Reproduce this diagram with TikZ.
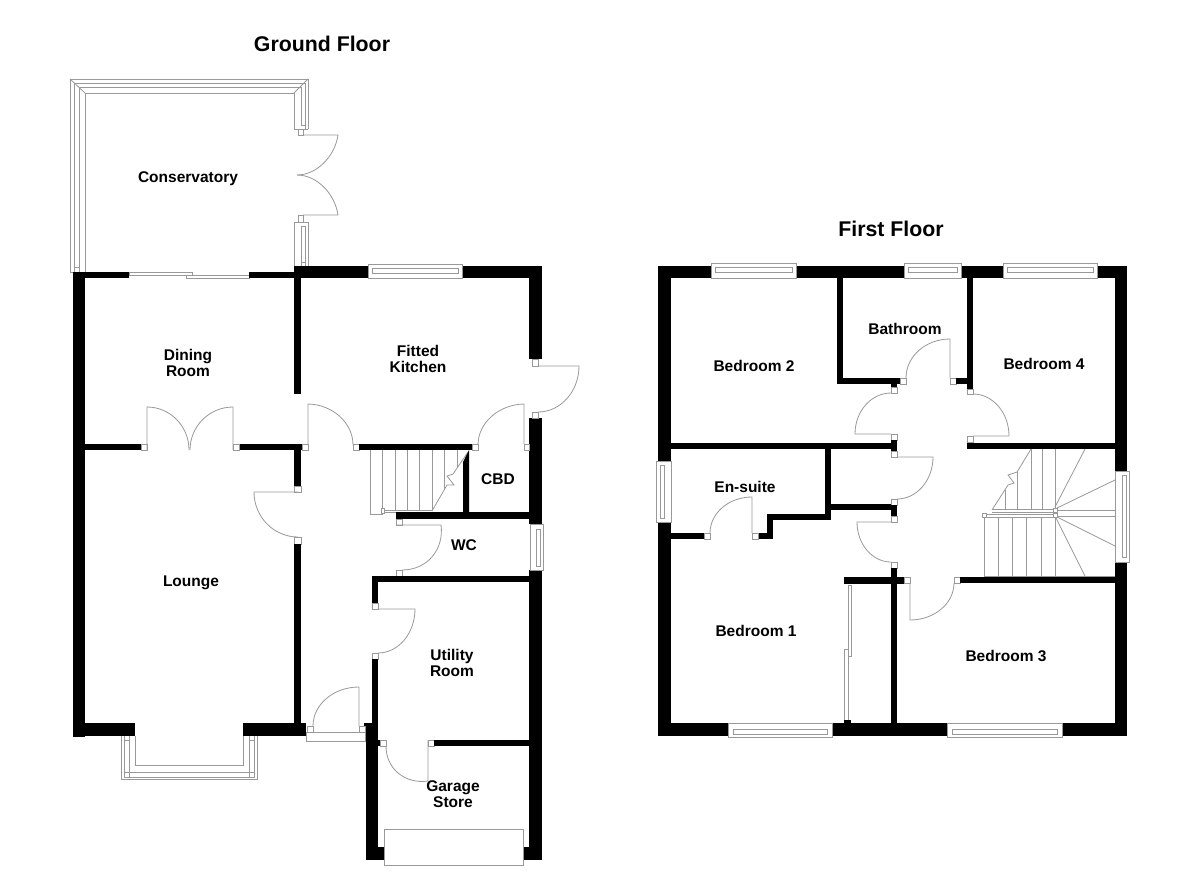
\documentclass[tikz,border=0pt]{standalone}
\usepackage{fontspec}
\setmainfont{Liberation Sans}
\usetikzlibrary{calc}
\definecolor{ln}{HTML}{999999}
\newcommand{\W}[2]{\fill[black] (#1) rectangle (#2);}
\newcommand{\Sq}[2]{\draw[thin line,fill=white] (#1) rectangle (#2);}
\newcommand{\R}[2]{\draw[thin line,fill=white] (#1) rectangle (#2);}
\newcommand{\Door}[3]{\draw[thin line] (#1) -- (#2) .. controls ($(#2)+0.5523*(#3)-0.5523*(#1)$) and ($(#3)+0.5523*(#2)-0.5523*(#1)$) .. (#3);}
\tikzset{thin line/.style={draw=ln,line width=0.8pt},
  lbl/.style={font=\bfseries\fontsize{15.5}{16.5}\selectfont,align=center,inner sep=0pt,text=black},
  ttl/.style={font=\bfseries\fontsize{21.3}{23}\selectfont,inner sep=0pt,text=black}}
\begin{document}
\begin{tikzpicture}[x=1pt,y=-1pt]
\useasboundingbox[fill=white] (0,0) rectangle (1200,873);
% --- conservatory frame
\draw[thin line] (70,272) -- (70,79) -- (308,79) -- (308,129);
\draw[thin line] (74,272) -- (74,83) -- (305,83) -- (305,129);
\draw[thin line] (79,272) -- (79,87) -- (301,87) -- (301,125);
\draw[thin line] (85,272) -- (85,93) -- (294,93) -- (294,129) -- (308,129);
\draw[thin line] (70,79) -- (85,93) (308,79) -- (294,93);
\draw[thin line] (70,272) -- (85,272);
\draw[thin line] (74,267) -- (79,267);
\draw[thin line] (301,125) -- (305,125);
\Sq{298,129}{303,135}
\Sq{298,215}{303,222}
\Door{303,135}{338,135}{297,175}
\Door{303,215}{338,215}{297,175}
\draw[thin line] (294,266) -- (294,222) -- (308,222) -- (308,266);
\draw[thin line] (301,266) -- (301,226) -- (305,226) -- (305,266);
\draw[thin line] (301,262) -- (305,262);
% --- ground floor walls
\W{73,272}{85,737}
\W{73,272}{129,278}
\R{129,272}{192,275}
\R{186,275}{249,278}
\W{249,272}{295,278}
\W{294,266}{368,278}
\W{462,266}{542,278}
\W{294,278}{301,394}
\W{529,266}{542,359}
\W{529,418}{542,524}
\W{529,570}{542,860}
% kitchen window
\R{368,264}{462,278}
\R{372,268}{458,273}
% kitchen door
\Sq{532,359}{538,366}
\Sq{532,412}{538,418}
\Door{538,366}{579,366}{538,412}
% lounge / dining wall
\W{85,444}{141,450}
\W{239,444}{302,450}
\Sq{141,444}{147,450}
\Sq{233,444}{239,450}
\Door{147,450}{147,407}{189,450}
\Door{233,450}{233,407}{190,450}
\Sq{302,444}{308,450}
\Door{308,444}{308,404}{353,445}
\Sq{353,444}{359,450}
\W{359,444}{472,450}
\Sq{472,444}{478,450}
\Door{524,444}{524,404}{478,445}
\Sq{524,444}{529,450}
% hall wall
\W{294,450}{301,487}
\Sq{294,486}{301,492}
\Door{298,492}{254,492}{298,537}
\Sq{294,537}{301,544}
\W{294,544}{301,724}
% stairs
\foreach \x in {382,395,407,419,432} {\draw[thin line] (\x,450) -- (\x,510);}
\draw[thin line] (370,450) -- (370,514) -- (382,514) -- (382,510);
\draw[thin line] (444,450) -- (444,490);
\draw[thin line] (457,450) -- (457,468);
\draw[thin line] (384,510) -- (432,510) (384,512) -- (432,512);
\draw[thin line] (432,511) -- (447,485) -- (454,485) -- (447,476) -- (453,474) -- (468,452);
\Sq{381,508}{384,513}
\fill[black] (469,450) -- (463,462) -- (463,513) -- (469,513) -- cycle;
\W{396,512}{530,519}
\Sq{396,519}{402,525}
\Door{396,525}{441,525}{402,570}
\Sq{396,570}{402,576}
\W{372,576}{530,582}
\W{372,576}{378,603}
\Sq{372,603}{378,609}
\Door{378,609}{415,609}{378,653}
\Sq{372,653}{378,659}
\W{372,659}{378,723}
\W{364,723}{378,737}
\W{366,737}{378,860}
\W{366,847}{384,860}
\W{523,847}{542,860}
\W{378,740}{380,746}
\Sq{380,740}{386,746}
\Sq{428,740}{434,746}
\Door{428,740}{428,781}{386,746}
\W{434,740}{529,746}
\R{384,829}{523,865}
% WC window
\R{530,524}{543,570}
\R{536,529}{540,566}
% lounge bottom
\W{73,723}{135,736}
\W{243,723}{306,736}
\draw[thin line,fill=white] (121,736) -- (121,779) -- (257,779) -- (257,736);
\draw[thin line] (124,736) -- (124,777) -- (254,777) -- (254,736);
\draw[thin line] (129,736) -- (129,772) -- (249,772) -- (249,736);
\draw[thin line] (135,736) -- (135,765) -- (243,765) -- (243,736);
\draw[thin line] (124,772) -- (129,772) -- (129,777);
\draw[thin line] (249,777) -- (249,772) -- (254,772);
\draw[thin line] (124,740) -- (129,740) (249,740) -- (254,740);
% front door
\Sq{307,726}{313,732}
\Sq{359,726}{365,732}
\Door{359,726}{359,687}{313,726}
\R{306,732}{365,741}
% --- first floor outer
\W{658,266}{711,278}
\W{796,266}{904,278}
\W{961,266}{1003,278}
\W{1097,266}{1127,278}
\W{1115,266}{1127,471}
\W{1115,562}{1127,736}
\W{658,266}{671,461}
\W{658,522}{671,736}
\W{658,723}{728,736}
\W{832,723}{947,736}
\W{1062,723}{1127,736}
% first floor windows
\R{711,263}{796,278} \R{715,267}{792,272}
\R{904,263}{961,278} \R{908,267}{957,272}
\R{1003,263}{1097,278} \R{1007,267}{1093,272}
\R{728,723}{832,737} \R{733,729}{827,734}
\R{947,723}{1062,737} \R{952,729}{1057,734}
\R{656,461}{671,522} \R{660,465}{664,518}
\R{1115,471}{1129,562} \R{1122,475}{1126,557}
% bathroom
\W{837,278}{843,384}
\W{837,378}{900,384}
\W{891,384}{897,387}
\Sq{900,378}{906,384}
\Door{950,378}{950,339}{906,378}
\Sq{950,378}{956,384}
\W{956,378}{973,384}
\W{967,278}{973,389}
% landing
\Sq{891,387}{897,393}
\Door{891,434}{855,434}{891,393}
\Sq{891,434}{897,440}
\W{891,440}{897,451}
\Sq{891,451}{897,457}
\W{671,443}{891,449}
\Sq{967,389}{973,394}
\Door{973,436}{1009,436}{973,394}
\Sq{967,436}{973,442}
\W{967,443}{1115,449}
% cupboard doors
\Door{897,457}{933,457}{897,499}
\Sq{891,499}{897,505}
\W{891,505}{897,516}
\Sq{891,516}{897,522}
\Door{891,522}{857,522}{891,562}
\Sq{891,562}{897,568}
\W{891,568}{897,723}
\W{844,577}{904,584}
\Sq{904,577}{910,583}
\Door{910,583}{910,620}{954,583}
\Sq{954,577}{960,583}
\W{960,577}{1115,583}
% wardrobe
\R{848,585}{851,656}
\R{844,649}{848,720}
\W{844,720}{851,723}
% en-suite
\W{825,449}{831,520}
\W{830,504}{891,510}
\W{767,514}{831,520}
\W{767,514}{773,539}
\W{758,533}{773,539}
\Sq{752,533}{758,539}
\Door{752,533}{752,497}{710,533}
\Sq{704,533}{710,539}
\W{671,533}{704,539}
% first floor stairs
\draw[thin line] (1031,449) -- (1031,509);
\draw[thin line] (1042,449) -- (1042,509);
\draw[thin line] (1055,449) -- (1055,509);
\draw[thin line] (1017,472) -- (1017,509);
\draw[thin line] (1005,490) -- (1005,509);
\draw[thin line] (1031,449) -- (1017,472) -- (1008,475) -- (1014,483) -- (1008,485) -- (992,510);
\draw[thin line] (992,509) -- (1055,509) (992,512) -- (1055,512);
\draw[thin line] (986,514) -- (1055,514) (986,517) -- (1055,517);
\foreach \x in {984,998,1012,1026,1041,1055} {\draw[thin line] (\x,517) -- (\x,576);}
\draw[thin line] (984,576) -- (1115,576);
\draw[thin line] (1055,507) -- (1085,449);
\draw[thin line] (1057,508) -- (1115,480);
\draw[thin line] (1057,510) -- (1115,510);
\draw[thin line] (1057,516) -- (1115,516);
\draw[thin line] (1057,517) -- (1115,546);
\draw[thin line] (1056,518) -- (1085,576);
\Sq{982,513}{986,517}
\Sq{1053,508}{1057,512}
\Sq{1053,513}{1057,517}
% --- labels
\node[ttl] (gf) at (322,44) {Ground Floor};
\node[ttl] (ff) at (891,229) {First Floor};
\node[lbl] (con) at (188,178.5) {Conservatory};
\node[lbl] (din) at (188,363) {Dining\\Room};
\node[lbl] (kit) at (418,359) {Fitted\\Kitchen};
\node[lbl] (lou) at (191,582.5) {Lounge};
\node[lbl] (cbd) at (498,479) {CBD};
\node[lbl] (wc) at (464,545) {WC};
\node[lbl] (uti) at (452,663) {Utility\\Room};
\node[lbl] (gar) at (453,794) {Garage\\Store};
\node[lbl] (b2) at (754,366) {Bedroom 2};
\node[lbl] (bat) at (905,329) {Bathroom};
\node[lbl] (b4) at (1044,364) {Bedroom 4};
\node[lbl] (ens) at (745,487) {En-suite};
\node[lbl] (b1) at (756,630.5) {Bedroom 1};
\node[lbl] (b3) at (1006,656) {Bedroom 3};
\end{tikzpicture}
\end{document}
